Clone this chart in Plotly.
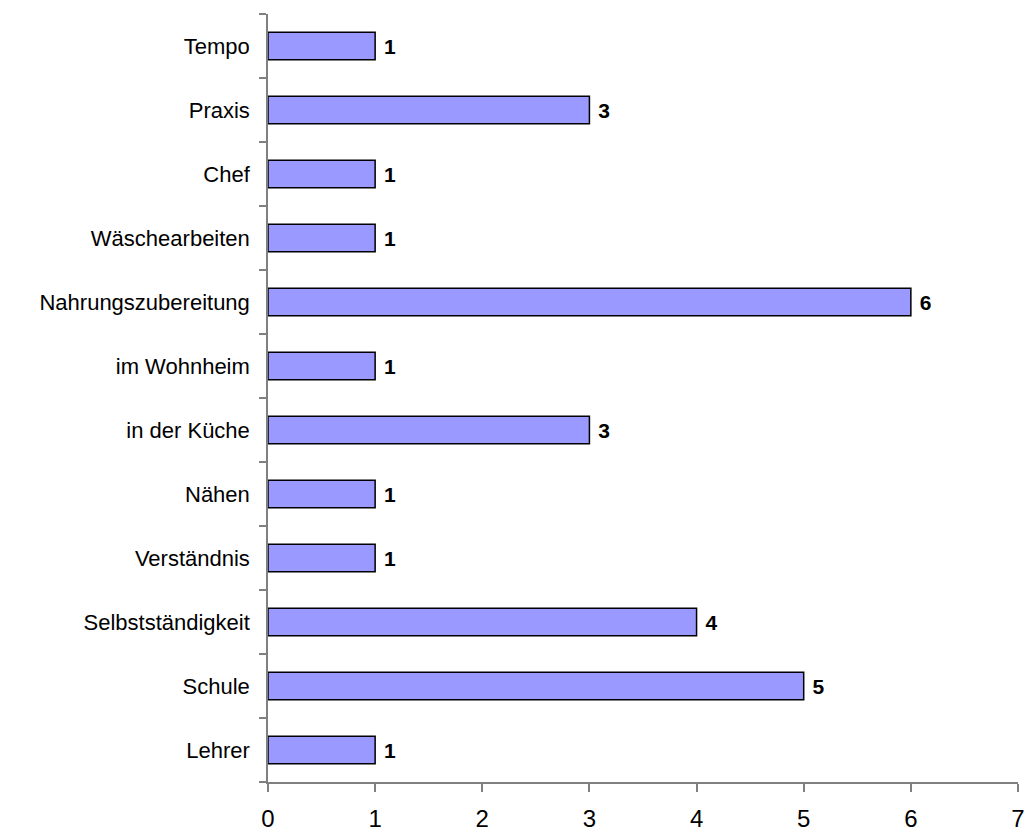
import plotly.graph_objects as go

categories = ["Lehrer", "Schule", "Selbstständigkeit", "Verständnis", "Nähen",
              "in der Küche", "im Wohnheim", "Nahrungszubereitung",
              "Wäschearbeiten", "Chef", "Praxis", "Tempo"]
values = [1, 5, 4, 1, 1, 3, 1, 6, 1, 1, 3, 1]
x_ticks = [0, 1, 2, 3, 4, 5, 6, 7]

fig = go.Figure(go.Bar(
    x=values, y=categories, orientation="h",
    marker=dict(color="#9999FF", line=dict(color="black", width=1.5)),
    width=0.43,
    texttemplate="\u00a0<b>%{x}</b>", textposition="outside",
    constraintext="none",
    textfont=dict(family="Liberation Sans, Arial", size=21, color="black"),
    outsidetextfont=dict(family="Liberation Sans, Arial", size=21, color="black"),
    cliponaxis=False,
))

fig.update_layout(
    width=1028, height=834,
    margin=dict(l=268, r=10, t=14, b=52, autoexpand=False),
    plot_bgcolor="white", paper_bgcolor="white",
    showlegend=False,
    font=dict(family="Liberation Sans, Arial", color="black"),
)
fig.update_xaxes(
    range=[0, 7], tickvals=x_ticks, showgrid=False, zeroline=False,
    showline=True, linecolor="#808080", linewidth=1.5,
    ticks="outside", ticklen=8, tickcolor="#808080", tickwidth=1.5,
    tickfont=dict(size=24, color="black"), ticklabelstandoff=6,
    automargin=False,
)
fig.update_yaxes(
    categoryorder="array", categoryarray=categories,
    showgrid=False, zeroline=False,
    showline=True, linecolor="#808080", linewidth=1.5,
    ticks="outside", ticklen=7, tickcolor="#808080", tickwidth=1.5,
    tickson="boundaries",
    tickfont=dict(size=22, color="black"), ticklabelstandoff=12,
    automargin=False,
)

fig.write_html(
    "out.html",
    config={"displayModeBar": False},
    post_script="document.body.style.margin='0';document.body.style.overflow='hidden';",
)
